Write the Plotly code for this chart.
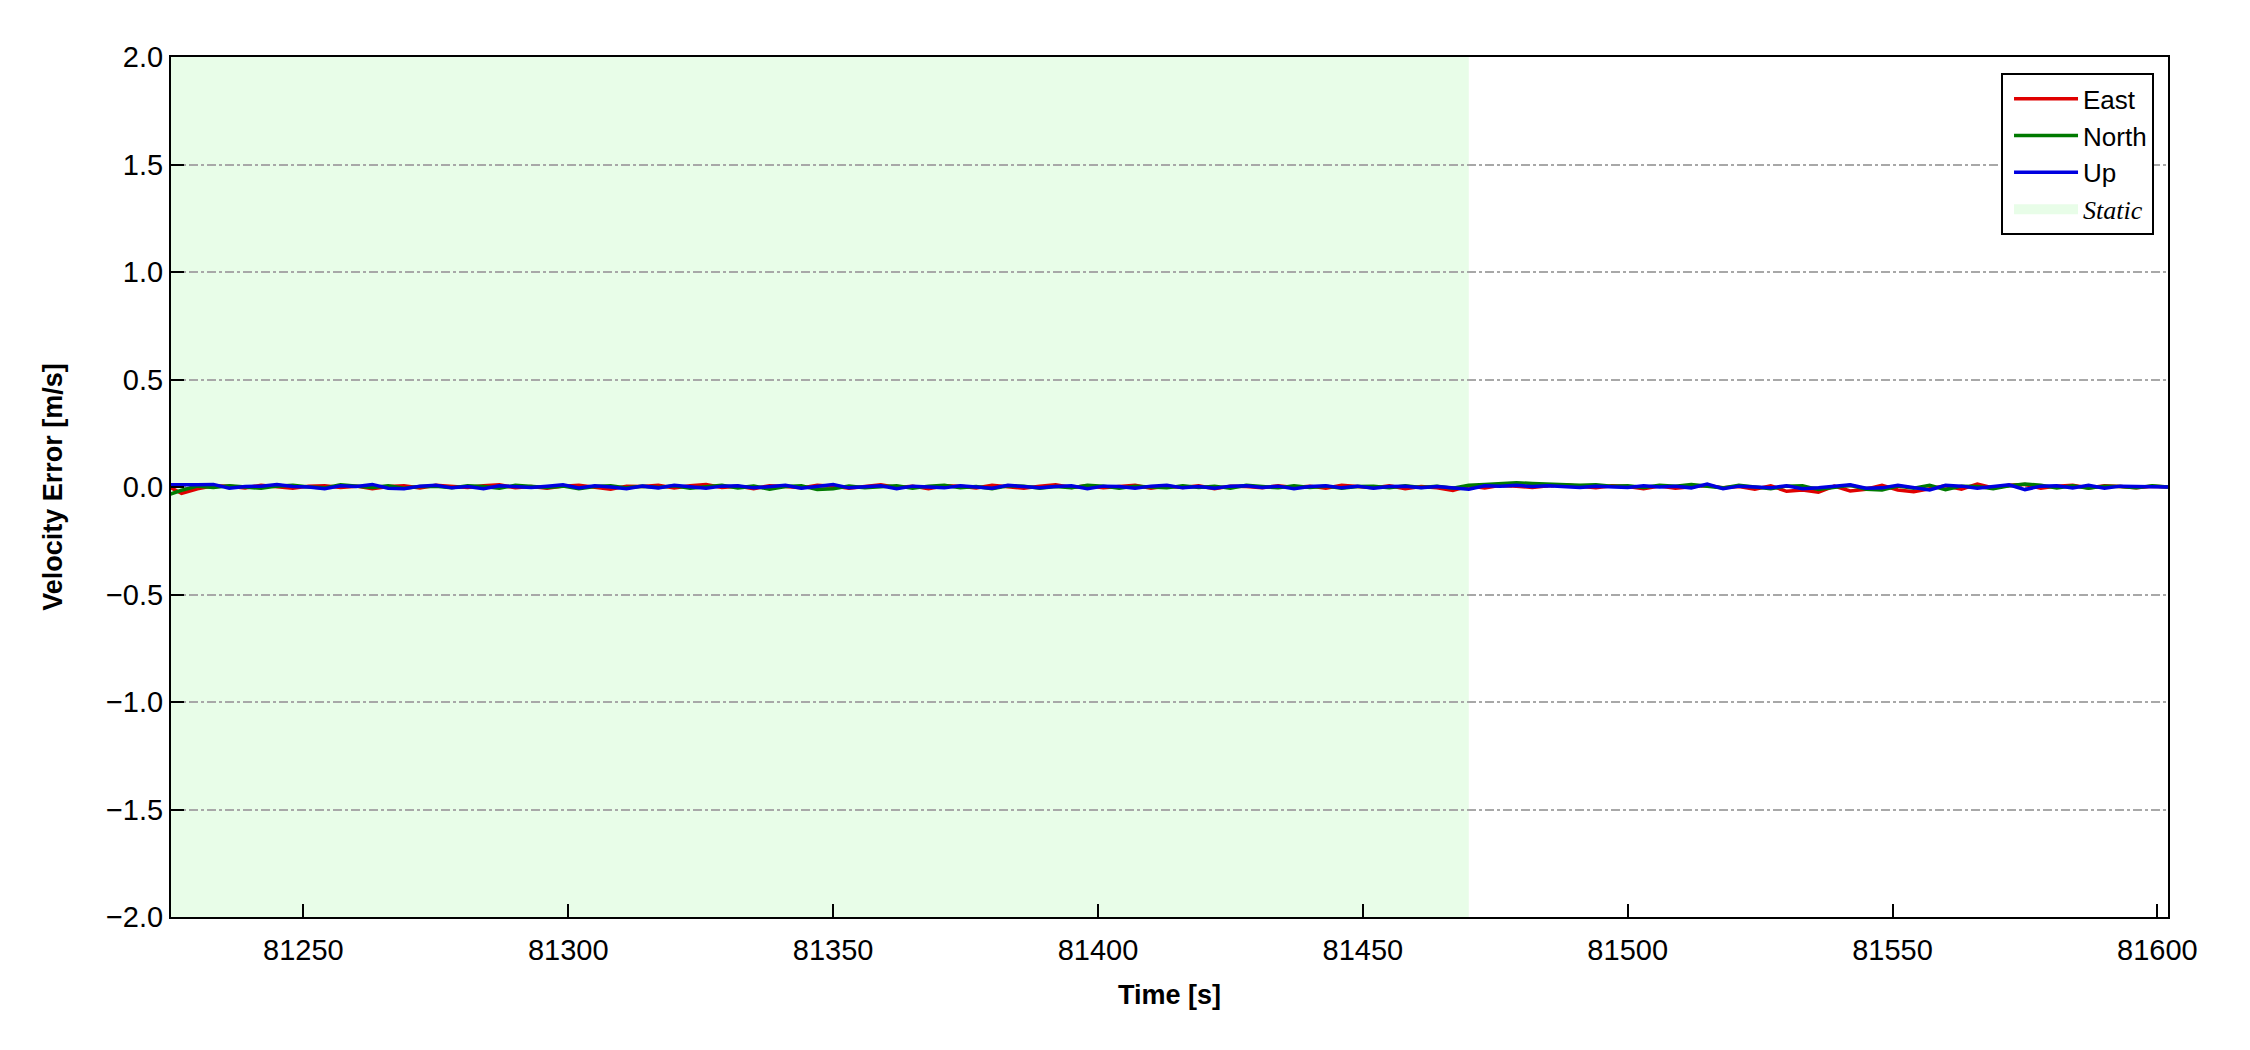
import plotly.graph_objects as go

# ---- data ----
t_start = 81224
t_step = 3
east = [0.010, -0.030, -0.008, 0.006, 0.004, -0.004, 0.008, 0.002, -0.006, 0.004,
        0.006, -0.002, 0.004, -0.008, 0.002, 0.006, -0.004, 0.008, 0.004, -0.002,
        0.006, 0.010, -0.004, 0.002, -0.006, 0.004, 0.008, 0.000, -0.010, 0.004,
        0.002, 0.008, -0.004, 0.006, 0.012, -0.002, 0.004, -0.008, 0.006, 0.002,
        -0.004, 0.008, 0.004, -0.006, 0.002, 0.010, -0.002, 0.004, -0.008, 0.006,
        0.004, -0.004, 0.008, 0.002, -0.006, 0.004, 0.010, -0.002, 0.006, -0.004,
        0.002, 0.008, -0.006, 0.004, -0.002, 0.006, -0.008, 0.004, 0.002, -0.004,
        0.006, -0.002, 0.004, -0.006, 0.008, 0.002, -0.004, 0.006, -0.008, 0.002,
        -0.004, -0.016, 0.006, -0.004, 0.008, 0.004, -0.002, 0.006, 0.010, 0.004,
        -0.004, 0.006, 0.002, -0.008, 0.004, -0.006, 0.002, 0.008, -0.004, 0.002,
        -0.010, 0.006, -0.020, -0.014, -0.024, 0.004, -0.018, -0.010, 0.008, -0.014,
        -0.022, -0.008, 0.006, -0.010, 0.014, -0.004, 0.008, 0.012, -0.006, 0.004,
        0.008, -0.004, 0.006, 0.002, -0.004, 0.004, 0.000]
north = [-0.040, -0.015, 0.004, -0.002, 0.006, 0.002, -0.006, 0.004, 0.008, 0.000,
         -0.004, 0.010, 0.004, -0.002, 0.006, -0.006, 0.002, 0.004, -0.004, 0.006,
         0.002, -0.006, 0.008, 0.004, -0.002, 0.004, -0.008, 0.002, 0.006, -0.004,
         0.004, -0.002, 0.006, -0.006, 0.002, 0.008, -0.004, 0.004, -0.010, 0.002,
         0.006, -0.012, -0.008, 0.004, -0.004, 0.002, 0.006, -0.006, 0.004, 0.008,
         -0.004, 0.002, -0.008, 0.006, 0.004, -0.006, 0.002, -0.004, 0.008, 0.004,
         -0.006, 0.004, 0.002, -0.004, 0.006, -0.002, 0.004, -0.006, 0.008, 0.002,
         -0.004, 0.006, -0.002, 0.004, -0.006, 0.002, 0.004, -0.004, 0.006, -0.002,
         0.004, -0.006, 0.008, 0.012, 0.018, 0.020, 0.016, 0.012, 0.010, 0.008,
         0.010, 0.004, 0.006, -0.002, 0.008, 0.004, 0.012, 0.006, -0.004, 0.008,
         0.002, -0.008, 0.004, 0.006, -0.012, -0.004, 0.008, -0.010, -0.014, 0.004,
         -0.006, 0.008, -0.012, 0.004, 0.002, -0.008, 0.006, 0.014, 0.008, -0.004,
         0.006, -0.006, 0.004, 0.002, -0.004, 0.006, 0.000]
up = [0.010, 0.008, 0.010, 0.012, -0.006, 0.002, 0.004, 0.012, 0.002, 0.000,
      -0.008, 0.006, 0.002, 0.012, -0.006, -0.008, 0.004, 0.008, -0.004, 0.002,
      -0.008, 0.006, 0.004, -0.002, 0.004, 0.010, -0.004, 0.006, 0.000, -0.008,
      0.004, -0.004, 0.008, 0.002, -0.006, 0.004, 0.006, -0.004, 0.002, 0.008,
      -0.006, 0.004, 0.012, -0.004, 0.002, 0.006, -0.008, 0.004, 0.000, -0.004,
      0.006, 0.002, -0.006, 0.008, 0.004, -0.004, 0.002, 0.006, -0.008, 0.004,
      0.002, -0.006, 0.004, 0.008, -0.004, 0.002, -0.006, 0.004, 0.006, -0.002,
      0.004, -0.008, 0.002, 0.006, -0.004, 0.004, -0.006, 0.002, 0.004, -0.004,
      0.002, -0.006, -0.010, 0.006, 0.004, 0.008, 0.002, 0.006, 0.004, -0.002,
      0.004, 0.002, -0.002, 0.006, 0.000, 0.004, -0.004, 0.014, -0.008, 0.004,
      0.002, -0.004, 0.006, -0.008, -0.004, 0.002, 0.010, -0.006, -0.004, 0.008,
      -0.004, -0.014, 0.008, 0.004, -0.006, 0.002, 0.010, -0.012, 0.004, 0.006,
      -0.004, 0.008, -0.006, 0.004, 0.002, -0.002, 0.000]
time = [t_start + t_step * i for i in range(len(east))]

static_start = 81220
static_end = 81470
y_limits = [-2.0, 2.0]
x_limits = [81225, 81602]
y_ticks = [-2.0, -1.5, -1.0, -0.5, 0.0, 0.5, 1.0, 1.5, 2.0]
x_ticks = [81250, 81300, 81350, 81400, 81450, 81500, 81550, 81600]

STATIC_COLOR = "#e8fde8"
FONT = "Liberation Sans, Arial"

fig = go.Figure()

for name, vals, color in [("East", east, "#e00000"), ("North", north, "#007a00"), ("Up", up, "#0000e0")]:
    fig.add_trace(go.Scatter(x=time, y=vals, mode="lines", name=name,
                             line=dict(color=color, width=3.5), legendrank=1000))

# static region drawn below the gridlines
fig.add_shape(type="rect", xref="x", yref="y",
              x0=static_start, x1=static_end, y0=y_limits[0], y1=y_limits[1],
              fillcolor=STATIC_COLOR, line=dict(width=0), layer="below")
# legend entry for the static region (thick line acts as a filled patch)
fig.add_trace(go.Scatter(x=[None], y=[None], mode="lines",
                         line=dict(width=18, color=STATIC_COLOR),
                         legendrank=2000, hoverinfo="skip",
                         name="<span style='font-family:Liberation Serif, Times New Roman, serif'><i>Static</i></span>"))

axis_common = dict(
    showline=True, linecolor="black", linewidth=2, mirror=True,
    ticks="inside", ticklen=13, tickwidth=2, tickcolor="black",
    tickfont=dict(family=FONT, size=29, color="black"),
    zeroline=False, automargin=False,
)

fig.update_xaxes(range=x_limits, tickvals=x_ticks, tickformat="d", showgrid=False,
                 ticklabelstandoff=6,
                 title=dict(text="<b>Time [s]</b>", font=dict(family=FONT, size=27, color="black"), standoff=20),
                 **axis_common)
fig.update_yaxes(range=y_limits, tickvals=y_ticks, tickformat=".1f",
                 showgrid=True, gridcolor="#a8a8a8", gridwidth=2, griddash="dashdot",
                 title=dict(text="<b>Velocity Error [m/s]</b>", font=dict(family=FONT, size=27, color="black"), standoff=36),
                 **axis_common)

fig.update_layout(
    width=2250, height=1050,
    margin=dict(l=163, r=90, t=49, b=141),
    plot_bgcolor="white", paper_bgcolor="white",
    legend=dict(x=0.993, y=0.981, xanchor="right", yanchor="top",
                bgcolor="white", bordercolor="black", borderwidth=2,
                font=dict(family=FONT, size=26, color="black"),
                tracegroupgap=0, itemwidth=64, indentation=6),
    showlegend=True,
)

fig.write_html("out.html")
